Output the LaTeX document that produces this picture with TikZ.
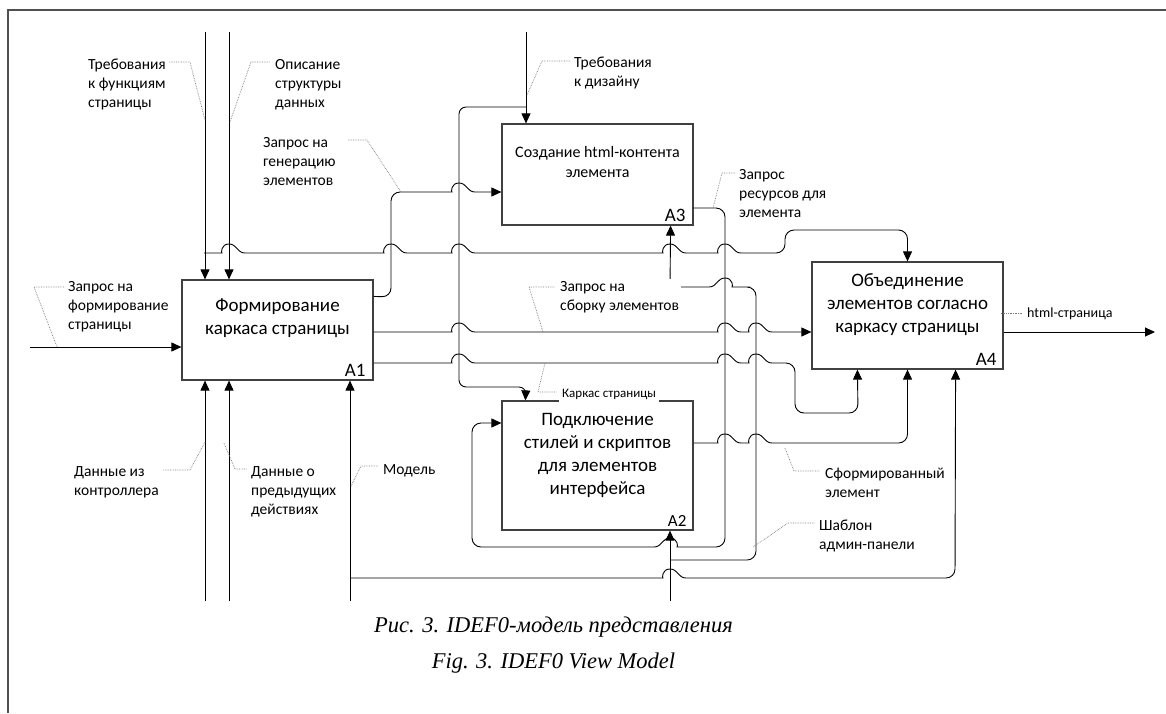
\documentclass[tikz,border=0pt]{standalone}
\usepackage{fontspec}
\setmainfont{Carlito}
\newfontfamily\capfont{Liberation Serif}
\usetikzlibrary{arrows.meta,calc}
\definecolor{boxgray}{HTML}{404040}
\definecolor{leadgray}{HTML}{7A7A7A}
\definecolor{framegray}{HTML}{505050}
% hop over a vertical line at x=#1 on a horizontal line y=#2 (left-to-right / right-to-left)
\newcommand\hopr[2]{-- ({#1-16},{#2}) [sharp corners] .. controls ({#1-8},{#2}) and ({#1-8},{#2-9}) .. ({#1},{#2-9}) .. controls ({#1+8},{#2-9}) and ({#1+8},{#2}) .. ({#1+16},{#2}) [rounded corners=9pt]}
\newcommand\hopl[2]{-- ({#1+16},{#2}) [sharp corners] .. controls ({#1+8},{#2}) and ({#1+8},{#2-9}) .. ({#1},{#2-9}) .. controls ({#1-8},{#2-9}) and ({#1-8},{#2}) .. ({#1-16},{#2}) [rounded corners=9pt]}
\begin{document}
\begin{tikzpicture}[x=1pt,y=-1pt,
  box/.style={draw=boxgray, line width=1.2pt, inner sep=0pt, minimum width=191pt},
  btext/.style={font=\fontsize{19}{23}\selectfont, align=center, inner sep=0pt},
  num/.style={font=\fontsize{19}{23}\selectfont, anchor=base east, inner sep=0pt},
  flow/.style={line width=0.9pt, rounded corners=9pt},
  arr/.style={flow, -{Triangle[length=10pt,width=9pt]}},
  lead/.style={draw=leadgray, densely dotted, line width=0.7pt},
  lbl/.style={font=\fontsize{15.5}{19}\selectfont, align=left, anchor=base west, inner sep=0pt},
  capt/.style={font=\capfont\itshape\fontsize{22.5}{26}\selectfont, inner sep=0pt}]
\useasboundingbox (0,0) rectangle (1166,713);
% frame
\draw[framegray, line width=1.6pt] (8,713) -- (8,10) -- (1166,10);

% boxes
\node[box, minimum height=100pt] (A1) at (277.5,330) {};
\node[box, minimum height=101pt] (A3) at (597.5,174.5) {};
\node[box, minimum height=107pt] (A4) at (907.5,315.5) {};
\node[box, minimum height=129pt] (A2) at (597.5,465.5) {};
\node[btext] (A1t) at (277.5,318) {Формирование\\каркаса страницы};
\node[btext, font=\fontsize{16}{20.5}\selectfont] (A3t) at (597.5,162) {Создание html-контента\\элемента};
\node[btext] (A4t) at (907.5,305) {Объединение\\элементов согласно\\каркасу страницы};
\node[btext] (A2t) at (597.5,455) {Подключение\\стилей и скриптов\\для элементов\\интерфейса};
\node[num] (nA1) at ($(A1.south east)+(-8,-4)$) {A1};
\node[num] (nA3) at ($(A3.south east)+(-8,-4)$) {A3};
\node[num] (nA4) at ($(A4.south east)+(-7,-4)$) {A4};
\node[num, font=\fontsize{17}{20}\selectfont] (nA2) at ($(A2.south east)+(-7,-4)$) {A2};

% free ends
\coordinate (in1) at (30,347);
\coordinate (c1) at (205,32);
\coordinate (c2) at (229,32);
\coordinate (c3) at (526,32);
\coordinate (m1) at (205,601);
\coordinate (m2) at (229,601);
\coordinate (m3) at (350,601);
\coordinate (m4) at (670,601);
\coordinate (out) at (1155,332);

% input of A1
\draw[arr] (in1) -- (in1 -| A1.west);
% controls of A1
\draw[arr] (c1) -- (c1 |- A1.north);
\draw[arr] (c2) -- (c2 |- A1.north);
\coordinate (b1) at (205,253);
\draw[arr] (b1) \hopr{229}{253} \hopr{391}{253} \hopr{459}{253} \hopr{670}{253} \hopr{725}{253} -- (785,253) -- (785,230) -- (A4.north |- 0,230) -- (A4.north);
% mechanisms of A1
\draw[arr] (m1) -- (m1 |- A1.south);
\draw[arr] (m2) -- (m2 |- A1.south);
\draw[arr] (m3) -- (m3 |- A1.south);
\coordinate (b2) at (350,578);
\draw[arr] (b2) \hopr{670}{578} -- (955,578) -- ($(A4.south east)+(-48,0)$);
% A1 outputs
\draw[arr] ($(A1.north east)+(0,17)$) -- (391,297) -- (391,192) \hopr{459}{192} -- (A3.west |- 0,192);
\draw[arr] (A1.east |- 0,332) \hopr{459}{332} \hopr{725}{332} \hopr{756}{332} -- (A4.west |- 0,332);
\draw[arr] (A1.east |- 0,363) \hopr{459}{363} \hopr{725}{363} \hopr{756}{363} -- (795,363) -- (795,413) -- (858,413) -- ($(A4.south west)+(46,0)$);
% control of A3 and A2
\draw[arr] (c3) -- (c3 |- A3.north);
\coordinate (b3) at (526,107);
\draw[arr, rounded corners=7pt] (b3) -- (459,107) -- (459,387) -- (526,387) -- ($(A2.north west)+(24,0)$);
% A3 output -> A2 input
\draw[arr] (A3.east |- 0,208) -- (725,208) -- (725,547) \hopl{670}{547} -- (472,547) -- (472,423) -- (A2.west |- 0,423);
% mechanism of A2 and A3
\draw[arr] (m4) -- (m4 |- A2.south);
\coordinate (b4) at (670,560);
\draw[arr] (b4) -- (756,560) -- (756,287) \hopl{725}{287} -- (670,287) -- ($(A3.south east)+(-23,0)$);
% A2 output -> A4
\draw[arr] (A2.east |- 0,443) \hopr{725}{443} \hopr{756}{443} -- (A4.south |- 0,443) -- (A4.south);
% A4 output
\draw[arr] (A4.east |- out) -- (out);

% labels and leaders
\node[lbl] (L1) at (68,329.5) {Запрос на\\формирование\\страницы};
\draw[lead] (57,347) -- (34,287) -- (65,287);
\node[lbl] (L2) at (88,107.5) {Требования\\к функциям\\страницы};
\draw[lead] (205,120) -- (190,62) -- (169,62);
\node[lbl] (L3) at (275,107.5) {Описание\\структуры\\данных};
\draw[lead] (230,122) -- (251,62) -- (270,62);
\node[lbl] (L4) at (263,185.5) {Запрос на\\генерацию\\элементов};
\draw[lead] (348,140) -- (367,140) -- (401,192);
\node[lbl] (L5) at (574,86.5) {Требования\\к дизайну};
\draw[lead] (570,61) -- (542,61) -- (527,95);
\node[lbl] (L6) at (739,217.5) {Запрос\\ресурсов для\\элемента};
\draw[lead] (735,173) -- (722,173) -- (713,208);
\node[lbl, fill=white, inner sep=2pt] (L7) at (558,310.5) {Запрос на\\сборку элементов};
\draw[lead] (543,332) -- (529,287) -- (555,287);
\node[lbl, fill=white, inner sep=3pt, font=\fontsize{13}{16}\selectfont] (L8) at (559,397) {Каркас страницы};
\draw[lead] (545,363) -- (538,392) -- (557,392);
\node[lbl] (L9) at (825,497.5) {Сформированный\\элемент};
\draw[lead] (785,448) -- (794,471) -- (820,471);
\node[lbl] (L10) at (819,549.5) {Шаблон\\админ-панели};
\draw[lead] (753,547) -- (788,523) -- (815,523);
\node[lbl, font=\fontsize{14}{17}\selectfont] (L11) at (1027,317.5) {html-страница};
\draw[lead] (1001,313) -- (1023,313);
\node[lbl] (L12) at (74,495.5) {Данные из\\контроллера};
\draw[lead] (205,442) -- (190,470) -- (163,470);
\node[lbl] (L13) at (251,514.5) {Данные о\\предыдущих\\действиях};
\draw[lead] (224,443) -- (235,469) -- (247,469);
\node[lbl] (L14) at (383,474.5) {Модель};
\draw[lead] (351,486) -- (361,466) -- (378,466);

% captions
\node[capt] (cap1) at (553.5,627) {Рис. 3. IDEF0-модель представления};
\node[capt] (cap2) at (553.5,663) {Fig. 3. IDEF0 View Model};
\end{tikzpicture}
\end{document}
